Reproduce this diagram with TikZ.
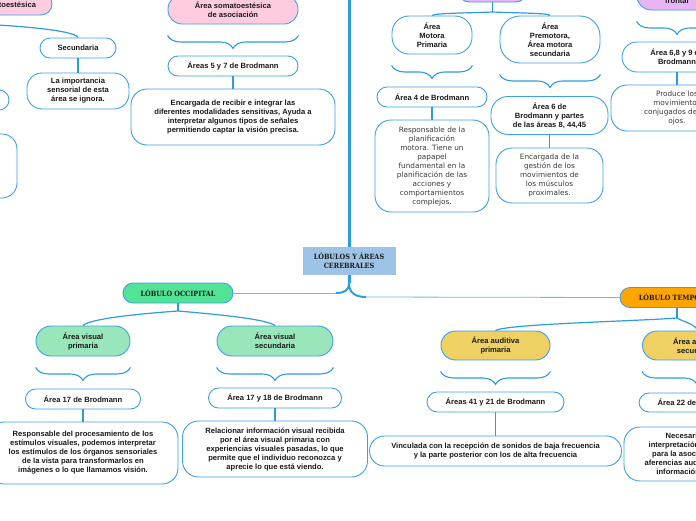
\documentclass[tikz,border=0pt]{standalone}
\usepackage{fontspec}
\setmainfont{Liberation Sans}
\newfontfamily\bfont{Liberation Sans}
\newfontfamily\rfont{DejaVu Sans}
\newfontfamily\sfont{DejaVu Serif Condensed}
\usetikzlibrary{decorations.pathreplacing,calc}

\definecolor{lineblue}{HTML}{2D9BE0}
\definecolor{boxblue}{HTML}{3DA0E8}
\definecolor{branchblue}{HTML}{6DB8EE}
\definecolor{centralfill}{HTML}{9DC3E6}
\definecolor{occfill}{HTML}{52E394}
\definecolor{visfill}{HTML}{98E6B9}
\definecolor{tempfill}{HTML}{FFA500}
\definecolor{audfill}{HTML}{EFD062}
\definecolor{pinkfill}{HTML}{FFCCDF}
\definecolor{lilacfill}{HTML}{E8B4F4}
\definecolor{txt}{HTML}{1A1A1A}
\definecolor{graytxt}{HTML}{3A3A3A}

\tikzset{
  bx/.style={draw=boxblue, line width=0.9pt, fill=white, align=center, inner sep=0pt,
    rounded corners=#1, text=txt, font=\bfont\bfseries\fontsize{7.6}{9}\selectfont},
  bx/.default=10pt,
  sz/.style 2 args={minimum width=#1pt, minimum height=#2pt},
  rtext/.style={font=\rfont\fontsize{7.3}{9}\selectfont, text=graytxt},
  lobe/.style={draw=boxblue, line width=0.9pt, rounded corners=10pt, align=center,
    inner sep=0pt, font=\sfont\bfseries\fontsize{7.2}{9}\selectfont, text=txt},
  conn/.style={draw=lineblue, line width=1.2pt},
  thinconn/.style={draw=branchblue, line width=0.8pt},
  trunk/.style={draw=lineblue, line width=3pt},
  brc/.style={draw=lineblue, line width=1.1pt, decorate, decoration={brace, mirror, amplitude=13pt}},
}

\begin{document}
\begin{tikzpicture}[x=1pt, y=-1pt]
\useasboundingbox (0,0) rectangle (696,520);

% ---------- top part ----------
\node[bx=11pt, sz={108}{22}, fill=pinkfill] (pinkL) at (-2,4) {Área somatoestésica};
\node[bx=10pt, sz={76}{20}] (sec) at (78,48) {Secundaria};
\node[bx=15pt, sz={102}{36}] (dsec) at (78,91) {La importancia\\sensorial de esta\\área se ignora.};
\node[bx=10pt, sz={98}{20}] (lb1) at (-40,100) {};
\node[bx=15pt, sz={114}{64}] (lb2) at (-40,166) {};

\node[bx=14pt, sz={130}{29}, fill=pinkfill] (pinkC) at (233,9.5) {Área somatoestésica\\de asociación};
\node[bx=10pt, sz={130}{20}] (a57) at (233,66) {Áreas 5 y 7 de Brodmann};
\node[bx=16pt, sz={204}{56}] (d57) at (233,117) {Encargada de recibir e integrar las\\diferentes modalidades sensitivas, Ayuda a\\interpretar algunos tipos de señales\\permitiendo captar la visión precisa.};

\node[bx=12pt, sz={70}{28}, fill=lilacfill] (lilM) at (492.5,-12) {};
\node[bx=17pt, sz={80}{38}] (amp) at (432,35) {Área\\Motora\\Primaria};
\node[bx=10pt, sz={110}{20}] (a4) at (432,97) {Área 4 de Brodmann};
\node[bx=16pt, sz={114}{92}, rtext] (d4) at (432,166) {Responsable de la\\planificación\\motora. Tiene un\\papapel\\fundamental en la\\planificación de las\\acciones y\\comportamientos\\complejos.};

\node[bx=20pt, sz={100}{47}] (apm) at (550,39.5) {Área\\Premotora,\\Área motora\\secundaria};
\node[bx=17pt, sz={117}{38}] (a6) at (549.5,115.5) {Área 6 de\\Brodmann y partes\\de las áreas 8, 44,45};
\node[bx=16pt, sz={107}{55}, rtext] (d6) at (549.5,175.5) {Encargada de la\\gestión de los\\movimientos de\\los músculos\\proximales.};

\node[bx=14pt, sz={80}{28}, fill=lilacfill] (lilR) at (677,-4) {Campo ocular\\frontal};
\node[bx=15pt, sz={110}{30}] (a689) at (677,57) {Área 6,8 y 9 de\\Brodmann};
\node[bx=16pt, sz={132}{46}, rtext] (d689) at (677,108) {Produce los\\movimientos\\conjugados de los\\ojos.};

% ---------- centre ----------
\node[lobe, fill=centralfill, rounded corners=0pt, draw=none, sz={93}{28}] (cen) at (349,261) {LÓBULOS Y ÁREAS\\CEREBRALES};
\node[lobe, fill=occfill, sz={110}{20}] (occ) at (178,293) {LÓBULO OCCIPITAL};
\node[lobe, fill=tempfill, sz={114}{20}] (tem) at (677,297.5) {LÓBULO TEMPORAL};

% ---------- bottom part ----------
\node[bx=15pt, sz={94}{30}, fill=visfill] (avp) at (83,341) {Área visual\\primaria};
\node[bx=10pt, sz={115}{20}] (a17) at (83,399) {Área 17 de Brodmann};
\node[bx=16pt, sz={190}{62}] (d17) at (83,453) {Responsable del procesamiento de los\\estímulos visuales, podemos interpretar\\los estímulos de los órganos sensoriales\\de la vista para transformarlos en\\imágenes o lo que llamamos visión.};

\node[bx=15pt, sz={116}{30}, fill=visfill] (avs) at (275,341) {Área visual\\secundaria};
\node[bx=10pt, sz={133}{20}] (a1718) at (275,398) {Área 17 y 18 de Brodmann};
\node[bx=16pt, sz={185}{56}] (d1718) at (275,449) {Relacionar información visual recibida\\por el área visual primaria con\\experiencias visuales pasadas, lo que\\permite que el individuo reconozca y\\aprecie lo que está viendo.};

\node[bx=14.5pt, sz={109}{29}, fill=audfill] (aap) at (495.5,345.5) {Área auditiva\\primaria};
\node[bx=10pt, sz={137}{20}] (a4121) at (495.5,402) {Áreas 41 y 21 de Brodmann};
\node[bx=15pt, sz={252}{30}] (d4121) at (495.5,451) {Vinculada con la recepción de sonidos de baja frecuencia\\y la parte posterior con los de alta frecuencia};

\node[bx=14.5pt, sz={109}{29}, fill=audfill] (aas) at (697,345.5) {Área auditiva\\secundaria};
\node[bx=10pt, sz={116}{19}] (a22) at (697,402.5) {Área 22 de Brodmann};
\node[bx=16pt, sz={146}{54}] (d22) at (697,454) {Necesaria para la\\interpretación del lenguaje\\para la asociación de las\\aferencias auditivas con otra\\información sensorial.};

% ---------- connectors ----------
\coordinate (ttop) at (349,-10);
\coordinate (split) at (349,283);
\draw[trunk] (ttop) -- (cen.north);
\draw[trunk] (cen.south) -- (split);
\draw[conn, line width=2pt] (split) .. controls (349,290) and (345,293) .. (336,293) coordinate (occL);
\draw[thinconn] (occL) -- (occ.east);
\draw[conn, line width=2pt] (split) .. controls (349,292) and (354,297) .. (366,297) coordinate (temR);
\draw[thinconn] (temR) -- (tem.west);

\coordinate (osplit) at (178,311);
\draw[conn] (occ.south) -- (osplit);
\draw[conn] (osplit) .. controls (150,313) and (90,318) .. (avp.north);
\draw[conn] (osplit) .. controls (200,313) and (265,318) .. (avs.north);

\coordinate (tsplit) at (677,318);
\draw[conn] (tem.south) -- (tsplit);
\draw[conn] (tsplit) .. controls (640,321) and (505,324) .. (aap.north);
\draw[conn] (tsplit) .. controls (684,322) and (697,325) .. (aas.north);

\coordinate (msplit) at (492.5,12);
\draw[conn] (lilM.south) -- (msplit);
\draw[conn] (msplit) .. controls (470,13) and (435,13) .. (amp.north);
\draw[conn] (msplit) .. controls (515,13) and (550,13) .. (apm.north);

\coordinate (lsplit) at (-2,25);
\draw[conn] (pinkL.south) -- (lsplit);
\draw[conn] (lsplit) .. controls (30,27) and (75,31) .. (sec.north);

\foreach \a/\b in {sec/dsec, a57/d57, a4/d4, a6/d6, a689/d689, a17/d17, a1718/d1718, a4121/d4121, a22/d22, lb1/lb2}
  \draw[conn] (\a.south) -- (\b.north);

\foreach \n in {pinkC, amp, apm, lilR, avp, avs, aap, aas}
  \draw[brc] ($(\n.south west)+(0,11)$) -- ($(\n.south east)+(0,11)$);
\end{tikzpicture}
\end{document}
